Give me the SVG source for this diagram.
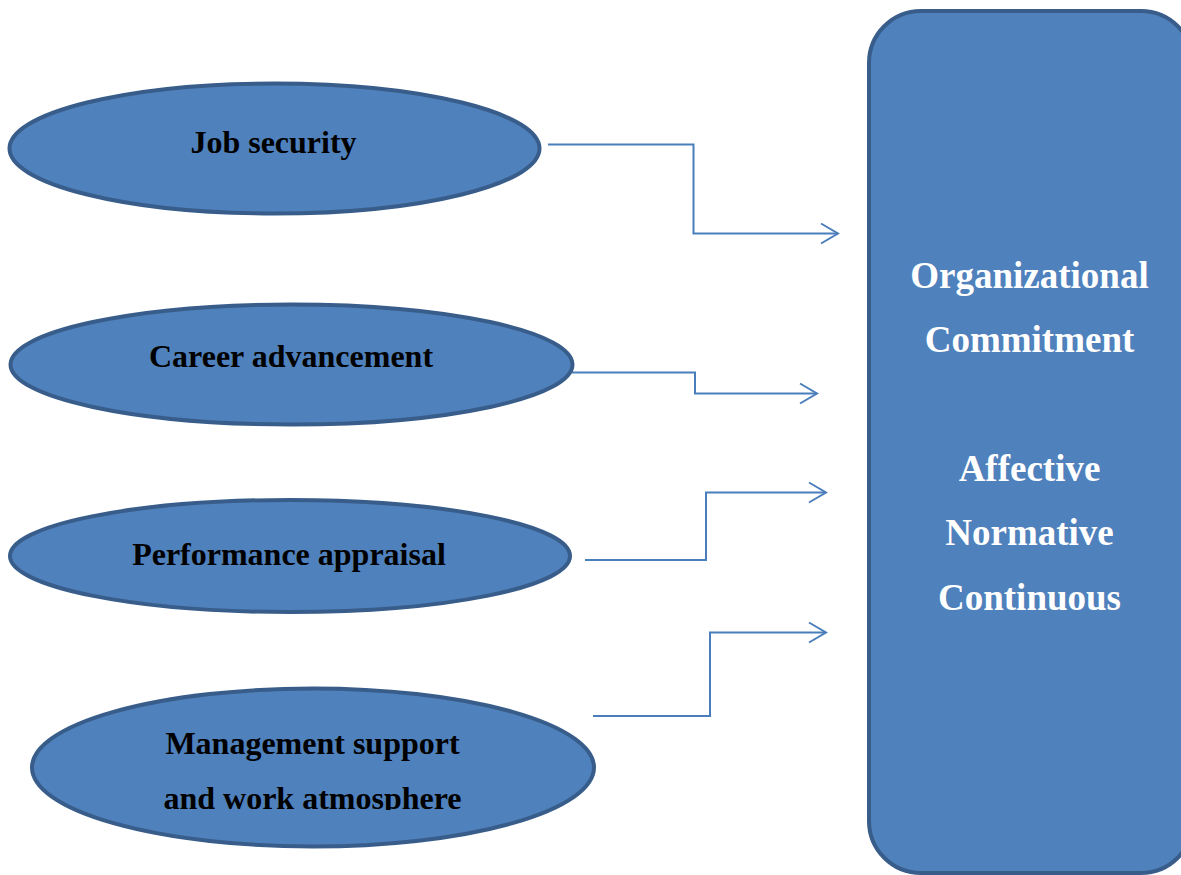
<svg xmlns="http://www.w3.org/2000/svg" width="1181" height="875" viewBox="0 0 1181 875">
  <style>
    .oval { fill: #4f81bd; stroke: #385d8a; stroke-width: 4; }
    .box { fill: #4f81bd; stroke: #385d8a; stroke-width: 4; }
    .lbl { font-family: "Liberation Serif", "Times New Roman", serif; font-weight: bold; font-size: 32px; fill: #000; text-anchor: middle; }
    .big { font-family: "Liberation Serif", "Times New Roman", serif; font-weight: bold; font-size: 37px; fill: #fff; text-anchor: middle; }
    .link { fill: none; stroke: #4a7ebb; stroke-width: 2; marker-end: url(#chevron); }
  </style>
  <defs>
    <marker id="chevron" markerUnits="userSpaceOnUse" markerWidth="22" markerHeight="24" viewBox="0 0 22 24" refX="19" refY="12" orient="auto">
      <path d="M2,2 L19,12 L2,22" fill="none" stroke="#4a7ebb" stroke-width="2"/>
    </marker>
    <clipPath id="mgmt-clip">
      <rect x="0" y="700" width="700" height="110"/>
    </clipPath>
  </defs>
  <rect width="1181" height="875" fill="#fff"/>

  <g id="connectors">
    <path class="link" d="M548,144.5 H693.5 V233.5 H838"/>
    <path class="link" d="M572,372.5 H695 V393.5 H817"/>
    <path class="link" d="M585,560 H706 V492.5 H826"/>
    <path class="link" d="M593,716 H710 V632.5 H826"/>
  </g>

  <g id="node-job-security">
    <ellipse class="oval" cx="274.5" cy="148.5" rx="265" ry="65"/>
    <text class="lbl" x="273.5" y="153">Job security</text>
  </g>

  <g id="node-career-advancement">
    <ellipse class="oval" cx="291.5" cy="364.5" rx="281" ry="60"/>
    <text class="lbl" x="291" y="367">Career advancement</text>
  </g>

  <g id="node-performance-appraisal">
    <ellipse class="oval" cx="290" cy="556" rx="280" ry="56"/>
    <text class="lbl" x="289" y="565">Performance appraisal</text>
  </g>

  <g id="node-management-support">
    <ellipse class="oval" cx="313" cy="767.5" rx="281" ry="79"/>
    <g clip-path="url(#mgmt-clip)">
      <text class="lbl" x="312.5" y="754">Management support</text>
      <text class="lbl" x="312.5" y="809">and work atmosphere</text>
    </g>
  </g>

  <g id="node-organizational-commitment">
    <rect class="box" x="869" y="11" width="324" height="862" rx="52" ry="52"/>
    <text class="big" x="1029.5" y="287.5">Organizational</text>
    <text class="big" x="1029.5" y="351.5">Commitment</text>
    <text class="big" x="1029.5" y="480.5">Affective</text>
    <text class="big" x="1029.5" y="544.5">Normative</text>
    <text class="big" x="1029.5" y="609.5">Continuous</text>
  </g>
</svg>
